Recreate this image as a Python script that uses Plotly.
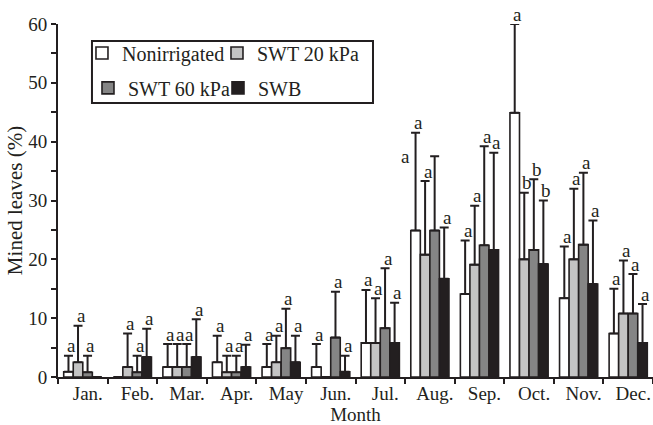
import plotly.graph_objects as go

months = ["Jan.", "Feb.", "Mar.", "Apr.", "May", "Jun.", "Jul.", "Aug.", "Sep.", "Oct.", "Nov.", "Dec."]
series_names = ["Nonirrigated", "SWT 20 kPa", "SWT 60 kPa", "SWB"]

nonirrigated = [0.9, 0.0, 1.7, 2.5, 1.7, 1.7, 5.8, 24.9, 14.1, 44.9, 13.4, 7.4]
swt20 = [2.5, 1.7, 1.7, 0.8, 2.5, 0.0, 5.8, 20.8, 19.1, 20.0, 20.0, 10.8]
swt60 = [0.8, 0.8, 1.7, 0.8, 4.9, 6.7, 8.3, 24.9, 22.4, 21.6, 22.5, 10.8]
swb = [0.0, 3.4, 3.4, 1.7, 2.5, 0.9, 5.8, 16.7, 21.6, 19.2, 15.8, 5.8]

# upper end of the error bars (mean + error)
nonirrigated_top = [3.6, 0.0, 5.6, 7.0, 5.6, 5.6, 14.8, 41.5, 23.2, 60.0, 22.2, 15.0]
swt20_top = [8.7, 7.4, 5.6, 3.6, 7.0, 0.0, 13.4, 33.3, 29.1, 31.3, 32.0, 19.8]
swt60_top = [3.6, 3.6, 5.6, 3.6, 11.6, 14.5, 18.5, 37.5, 39.2, 33.6, 34.7, 17.5]
swb_top = [0.0, 8.2, 9.8, 5.5, 7.0, 3.6, 12.6, 25.4, 38.1, 30.0, 26.6, 12.4]

nonirrigated_letters = ["a", "", "a", "a", "a", "a", "a", "a", "a", "a", "a", "a"]
swt20_letters = ["a", "a", "a", "a", "a", "", "a", "a", "a", "b", "a", "a"]
swt60_letters = ["a", "a", "a", "a", "a", "a", "a", "a", "a", "b", "a", "a"]
swb_letters = ["", "a", "a", "a", "a", "a", "a", "a", "a", "b", "a", "a"]

values = [nonirrigated, swt20, swt60, swb]
tops = [nonirrigated_top, swt20_top, swt60_top, swb_top]
letters = [nonirrigated_letters, swt20_letters, swt60_letters, swb_letters]

fills = ["#ffffff", "#c4c4c4", "#858585", "#231f20"]
ink = "#231f20"
FONT = "Liberation Serif"
legend_ids = ["legend", "legend2", "legend3", "legend4"]
legend_pos = [(0.0403, 0.918), (0.2672, 0.918), (0.0504, 0.819), (0.2689, 0.819)]

BARGAP = 0.23

fig = go.Figure()
for s in range(4):
    plus = [max(t - v, 0) for t, v in zip(tops[s], values[s])]
    fig.add_trace(go.Bar(
        name=series_names[s], x=months, y=values[s],
        marker=dict(color=fills[s], line=dict(color=ink, width=1.6)),
        error_y=dict(type="data", symmetric=False, array=plus,
                     arrayminus=[0] * len(plus), color=ink, thickness=2, width=4.5),
        legend=legend_ids[s], showlegend=True,
    ))

# letter annotations above error bars
group_w = 1 - BARGAP
bar_w = group_w / 4
special = {(2, 7): dict(xshift=-29, yshift=0)}
annotations = []
for s in range(4):
    for i, lab in enumerate(letters[s]):
        if not lab:
            continue
        xpos = i - group_w / 2 + bar_w * (s + 0.5)
        ypos = max(tops[s][i], values[s][i])
        sh = special.get((s, i), dict(xshift=3, yshift=10))
        annotations.append(dict(x=xpos, y=ypos, xref="x", yref="y", text=lab,
                                showarrow=False, yanchor="middle",
                                font=dict(family=FONT, size=19, color=ink), **sh))

legends = {}
for lid, (lx, ly) in zip(legend_ids, legend_pos):
    legends[lid] = dict(orientation="h", x=lx, xanchor="left", y=ly, yanchor="middle",
                        bgcolor="rgba(0,0,0,0)", borderwidth=0, itemwidth=30,
                        visible=True,
                        font=dict(family=FONT, size=20, color=ink))

fig.update_layout(
    width=653, height=425,
    margin=dict(l=58, r=0, t=24, b=48),
    showlegend=True,
    plot_bgcolor="white", paper_bgcolor="white",
    barmode="group", bargap=BARGAP, bargroupgap=0,
    font=dict(family=FONT, size=19, color=ink),
    annotations=annotations,
    shapes=[dict(type="rect", xref="paper", yref="paper",
                 x0=0.0571, x1=0.5294, y0=0.776, y1=0.952,
                 line=dict(color=ink, width=2), fillcolor="rgba(0,0,0,0)")],
    xaxis=dict(type="category", range=[-0.5, 11.5], showline=True, linecolor=ink,
               linewidth=2, ticks="outside", tickson="boundaries", ticklen=5,
               tickwidth=2, tickcolor=ink, showgrid=False, ticklabelshift=5,
               ticklabelstandoff=-2,
               tickfont=dict(family=FONT, size=19, color=ink),
               title=dict(text="Month", font=dict(family=FONT, size=19, color=ink),
                          standoff=4)),
    yaxis=dict(range=[0, 60], dtick=10, showline=True, linecolor=ink, linewidth=2,
               ticks="outside", ticklen=5, tickwidth=2, tickcolor=ink,
               showgrid=False, zeroline=False,
               minor=dict(dtick=5, ticks="outside", ticklen=5, tickwidth=2,
                          tickcolor=ink, showgrid=False),
               tickfont=dict(family=FONT, size=19, color=ink),
               title=dict(text="Mined leaves (%)",
                          font=dict(family=FONT, size=21, color=ink), standoff=0)),
    **legends,
)

fig.write_html("out.html", config={"displayModeBar": False},
               post_script="document.body.style.margin='0px';")
